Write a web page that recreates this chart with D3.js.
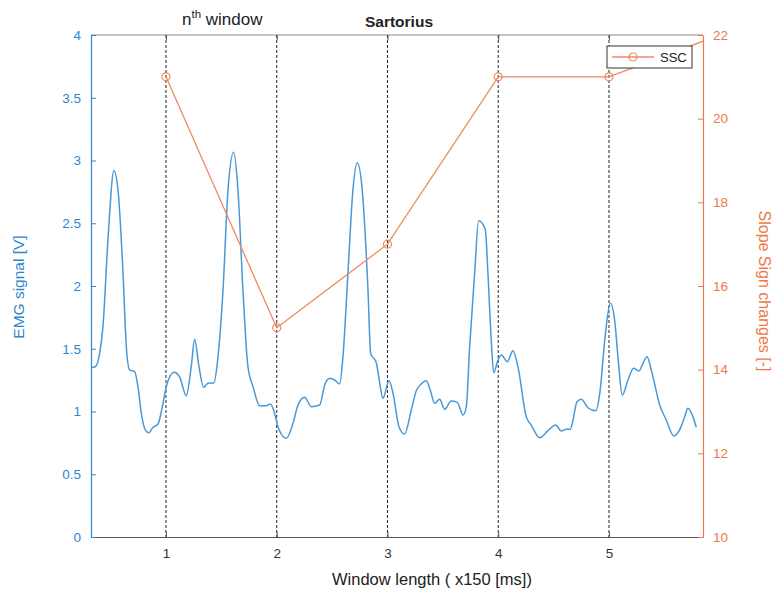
<!DOCTYPE html>
<html>
<head>
<meta charset="utf-8">
<script src="https://cdn.jsdelivr.net/npm/d3@7"></script>
<style>
  body { margin: 0; background: #fff; }
  svg { font-family: "Liberation Sans", Arial, sans-serif; }
</style>
</head>
<body>
<svg id="chart" width="773" height="595"></svg>
<script>
// EMG signal (left axis)
const emgX = [0.320,0.362,0.401,0.431,0.476,0.530,0.567,0.612,0.642,0.672,0.717,0.747,0.777,0.813,0.844,0.883,0.928,0.973,
  1.003,1.072,1.124,1.183,1.228,1.259,1.298,1.340,1.379,1.433,1.470,1.515,1.560,1.611,1.650,1.695,1.740,1.786,1.846,1.906,1.942,1.972,
  2.011,2.086,2.147,2.192,2.252,2.312,2.388,2.433,2.478,2.523,2.568,2.598,2.643,2.688,2.727,2.772,2.824,2.848,2.899,2.930,2.959,
  3.014,3.050,3.104,3.155,3.215,3.260,3.305,3.350,3.386,3.426,3.471,3.516,3.576,3.630,3.684,3.712,3.742,3.787,3.823,3.883,3.907,3.937,3.959,3.998,
  4.028,4.082,4.133,4.178,4.253,4.298,4.374,4.449,4.519,4.569,4.614,4.651,4.675,4.711,4.750,4.810,4.880,4.917,4.962,
  5.012,5.051,5.081,5.120,5.172,5.223,5.271,5.307,5.344,5.382,5.458,5.517,5.585,5.638,5.684,5.713,5.758,5.788];
const emgY = [1.349,1.357,1.464,1.676,2.367,2.919,2.765,2.104,1.516,1.331,1.317,1.198,0.988,0.853,0.831,0.874,0.900,1.065,
  1.198,1.312,1.273,1.126,1.357,1.575,1.357,1.193,1.225,1.229,1.437,1.968,2.765,3.065,2.765,1.968,1.357,1.198,1.046,1.046,1.060,1.012,
  0.879,0.786,0.906,1.052,1.113,1.038,1.052,1.211,1.265,1.251,1.219,1.437,2.101,2.765,2.982,2.765,1.968,1.464,1.389,1.225,1.105,
  1.245,1.145,0.879,0.821,1.012,1.166,1.219,1.245,1.171,1.065,1.097,1.018,1.084,1.073,0.972,1.038,1.516,2.101,2.520,2.452,2.101,1.570,1.309,1.410,
  1.450,1.397,1.484,1.357,0.959,0.892,0.791,0.847,0.892,0.845,0.858,0.858,0.932,1.078,1.097,1.030,1.006,1.145,1.570,
  1.862,1.729,1.437,1.131,1.251,1.344,1.323,1.384,1.437,1.331,1.052,0.932,0.805,0.853,0.959,1.025,0.959,0.874];

// Slope sign changes (right axis)
const sscX = [1, 2, 3, 4, 5, 6];
const sscY = [21, 15, 17, 21, 21, 22];

const windowLines = [1, 2, 3, 4, 5];
const xTicks = [1, 2, 3, 4, 5];
const leftTicks = [0, 0.5, 1, 1.5, 2, 2.5, 3, 3.5, 4];
const rightTicks = [10, 12, 14, 16, 18, 20, 22];

const blue = "#2f86cc", blueLine = "#4a98d6";
const orange = "#ec7a48", orangeLine = "#ee8a60";

const margin = { top: 35, right: 70, bottom: 58, left: 91 },
      width = 773 - margin.left - margin.right,
      height = 595 - margin.top - margin.bottom;

const x = d3.scaleLinear().domain([0.323, 5.849]).range([0, width]);
const yL = d3.scaleLinear().domain([0, 4]).range([height, 0]);
const yR = d3.scaleLinear().domain([10, 22]).range([height, 0]);

const svg = d3.select('#chart');
const g = svg.append('g').attr('transform', `translate(${margin.left},${margin.top})`);

svg.append('defs').append('clipPath').attr('id', 'plot-clip')
   .append('rect').attr('width', width).attr('height', height);

// dashed window markers
g.selectAll('.win')
 .data(windowLines)
 .enter().append('line')
   .attr('x1', d => x(d)).attr('x2', d => x(d))
   .attr('y1', 0).attr('y2', height)
   .attr('stroke', '#222').attr('stroke-width', 1)
   .attr('stroke-dasharray', '3,2');

// EMG line
const emg = emgX.map((v, i) => ({ x: v, y: emgY[i] }));
g.append('path')
 .datum(emg)
 .attr('clip-path', 'url(#plot-clip)')
 .attr('fill', 'none')
 .attr('stroke', blueLine)
 .attr('stroke-width', 1.5)
 .attr('d', d3.line().x(d => x(d.x)).y(d => yL(d.y)).curve(d3.curveMonotoneX));

// SSC line + markers
const ssc = sscX.map((v, i) => ({ x: v, y: sscY[i] }));
const sscG = g.append('g').attr('clip-path', 'url(#plot-clip)');
sscG.append('path')
 .datum(ssc)
 .attr('fill', 'none')
 .attr('stroke', orangeLine)
 .attr('stroke-width', 1.3)
 .attr('d', d3.line().x(d => x(d.x)).y(d => yR(d.y)));
sscG.selectAll('.dot')
 .data(ssc)
 .enter().append('circle')
   .attr('cx', d => x(d.x)).attr('cy', d => yR(d.y))
   .attr('r', 4)
   .attr('fill', 'none')
   .attr('stroke', orangeLine).attr('stroke-width', 1.2);

// box line on top
g.append('line').attr('x1', 0).attr('x2', width).attr('y1', 0).attr('y2', 0)
 .attr('stroke', '#8a8a8a').attr('stroke-width', 1.2);

// X axis
const xAxis = g.append('g')
  .attr('transform', `translate(0,${height})`)
  .call(d3.axisBottom(x).tickValues(xTicks).tickFormat(d3.format('d')).tickSizeInner(-5).tickSizeOuter(0).tickPadding(11));
xAxis.select('.domain').attr('stroke', '#555').attr('stroke-width', 1.2);
xAxis.selectAll('line').attr('stroke', '#555');
xAxis.selectAll('text').attr('fill', '#333').style('font-size', '13.5px');

// top ticks
g.append('g').call(d3.axisTop(x).tickValues(xTicks).tickFormat('').tickSizeInner(-5).tickSizeOuter(0))
 .call(a => a.select('.domain').remove())
 .selectAll('line').attr('stroke', '#555');

// left Y axis
const yAxisL = g.append('g')
  .call(d3.axisLeft(yL).tickValues(leftTicks).tickFormat(d3.format('')).tickSizeInner(-5).tickSizeOuter(0).tickPadding(10));
yAxisL.select('.domain').attr('stroke', blue).attr('stroke-width', 1.2);
yAxisL.selectAll('line').attr('stroke', blue);
yAxisL.selectAll('text').attr('fill', blue).style('font-size', '13.5px');

// right Y axis
const yAxisR = g.append('g')
  .attr('transform', `translate(${width},0)`)
  .call(d3.axisRight(yR).tickValues(rightTicks).tickSizeInner(-5).tickSizeOuter(0).tickPadding(10));
yAxisR.select('.domain').attr('stroke', orange).attr('stroke-width', 1.2);
yAxisR.selectAll('line').attr('stroke', orange);
yAxisR.selectAll('text').attr('fill', orange).style('font-size', '13.5px');

// labels
svg.append('text')
   .attr('x', 399).attr('y', 27)
   .attr('text-anchor', 'middle')
   .style('font-size', '15.5px').style('font-weight', 'bold').attr('fill', '#222')
   .text('Sartorius');

const nth = svg.append('text')
   .attr('x', 182).attr('y', 25)
   .style('font-size', '17px').attr('fill', '#222');
nth.append('tspan').text('n');
nth.append('tspan').attr('dy', -7).style('font-size', '11.5px').text('th');
nth.append('tspan').attr('dy', 7).text(' window');

svg.append('text')
   .attr('x', 432).attr('y', 585)
   .attr('text-anchor', 'middle')
   .style('font-size', '16.5px').attr('fill', '#222')
   .text('Window length ( x150 [ms])');

svg.append('text')
   .attr('transform', `translate(24,287) rotate(-90)`)
   .attr('text-anchor', 'middle')
   .style('font-size', '15.5px').attr('fill', blue)
   .text('EMG signal [V]');

svg.append('text')
   .attr('transform', `translate(759,291) rotate(90)`)
   .attr('text-anchor', 'middle')
   .style('font-size', '16px').attr('fill', orange)
   .text('Slope Sign changes [-]');

// legend
const lg = svg.append('g').attr('transform', 'translate(607,46)');
lg.append('rect').attr('width', 85).attr('height', 22)
  .attr('fill', '#fff').attr('stroke', '#333').attr('stroke-width', 1);
lg.append('line').attr('x1', 5).attr('x2', 47).attr('y1', 11).attr('y2', 11)
  .attr('stroke', orangeLine).attr('stroke-width', 1.3);
lg.append('circle').attr('cx', 26).attr('cy', 11).attr('r', 4)
  .attr('fill', 'none').attr('stroke', orangeLine).attr('stroke-width', 1.2);
lg.append('text').attr('x', 53).attr('y', 16)
  .style('font-size', '13px').attr('fill', '#222').text('SSC');
</script>
</body>
</html>
